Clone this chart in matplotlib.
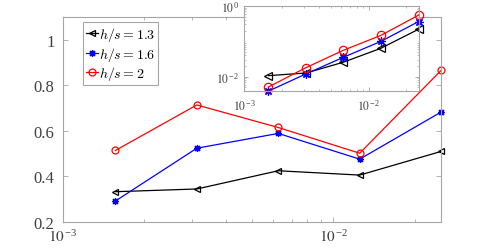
import matplotlib
matplotlib.use('Agg')
import matplotlib.pyplot as plt
from matplotlib.ticker import LogLocator, FixedLocator, NullFormatter

plt.rcParams['font.family'] = 'Liberation Serif'
plt.rcParams['mathtext.fontset'] = 'stix'

# data
dx = [0.0015625, 0.003125, 0.00625, 0.0125, 0.025]
labels = ['$h/s = 1.3$', '$h/s = 1.6$', '$h/s = 2$']

main_13 = [0.333, 0.345, 0.425, 0.406, 0.510]
main_16 = [0.292, 0.524, 0.589, 0.476, 0.683]
main_20 = [0.514, 0.714, 0.615, 0.502, 0.866]

inset_13 = [0.0107, 0.0127, 0.0257, 0.0638, 0.22]
inset_16 = [0.0039, 0.0120, 0.0355, 0.100, 0.363]
inset_20 = [0.0051, 0.0180, 0.056, 0.148, 0.55]

colors = ['black', 'blue', 'red']
markers = ['<', (8, 2, 0), 'o']
gray = '#a6a6a6'
txt = '#404040'

fig = plt.figure(figsize=(4.88, 2.51), dpi=100)
ax = fig.add_axes([0.129, 0.1116, 0.775, 0.8164])

for ys, c, m, lab in zip([main_13, main_16, main_20], colors, markers, labels):
    ax.plot(dx, ys, color=c, marker=m, mfc='none', mec=c, ms=5, lw=0.9,
            mew=0.9, label=lab, clip_on=False)

ax.set_xscale('log')
ax.set_xlim(1e-3, 0.025)
ax.set_ylim(0.2, 1.1)
ax.set_yticks([0.2, 0.4, 0.6, 0.8, 1.0])
ax.set_yticklabels(['0.2', '0.4', '0.6', '0.8', '1'])
ax.xaxis.set_major_locator(FixedLocator([1e-3, 1e-2]))
ax.set_xticklabels(['$10^{\\,\\mathregular{-3}}$', '$10^{\\,\\mathregular{-2}}$'])
ax.xaxis.set_minor_locator(LogLocator(base=10, subs=range(2, 10)))
ax.xaxis.set_minor_formatter(NullFormatter())
ax.tick_params(which='both', direction='in', top=True, right=True,
               color=gray, labelcolor=txt, labelsize=12)
ax.tick_params(which='major', length=3.5, width=0.6)
ax.tick_params(which='minor', length=2, width=0.6)
ax.tick_params(axis='x', pad=4, labelsize=11)
ax.tick_params(axis='y', pad=6)
for s in ax.spines.values():
    s.set_color(gray)
    s.set_linewidth(0.8)

leg = ax.legend(loc='upper left', bbox_to_anchor=(0.053, 0.975), fontsize=10,
                handlelength=0.9, handletextpad=0.05, borderpad=0.2,
                labelspacing=0.12, borderaxespad=0, fancybox=False,
                framealpha=1, edgecolor=gray)
leg.get_frame().set_linewidth(0.8)
for t in leg.get_texts():
    t.set_math_fontfamily('cm')

# inset
ax2 = fig.add_axes([0.5006, 0.633, 0.357, 0.339])
for ys, c, m in zip([inset_13, inset_16, inset_20], colors, markers):
    ax2.plot(dx, ys, color=c, marker=m, mfc='none', mec=c, ms=6, lw=0.9,
             mew=0.9, clip_on=False)
ax2.set_xscale('log')
ax2.set_yscale('log')
ax2.set_xlim(1e-3, 0.025)
ax2.set_ylim(0.0039, 1)
ax2.xaxis.set_major_locator(FixedLocator([1e-3, 1e-2]))
ax2.set_xticklabels(['$10^{\\,\\mathregular{-3}}$', '$10^{\\,\\mathregular{-2}}$'])
ax2.xaxis.set_minor_locator(LogLocator(base=10, subs=range(2, 10)))
ax2.xaxis.set_minor_formatter(NullFormatter())
ax2.yaxis.set_major_locator(FixedLocator([1e-2, 1e0]))
ax2.set_yticklabels(['$10^{\\,\\mathregular{-2}}$', '$10^{\\,\\mathregular{0}}$'])
ax2.yaxis.set_minor_locator(LogLocator(base=10, subs=range(2, 10), numticks=20))
ax2.yaxis.set_minor_formatter(NullFormatter())
ax2.tick_params(which='both', direction='in', top=True, right=True,
                color=gray, labelcolor=txt, labelsize=8.5)
ax2.tick_params(which='major', length=3, width=0.6)
ax2.tick_params(which='minor', length=1.6, width=0.5)
ax2.tick_params(axis='x', pad=5)
for s in ax2.spines.values():
    s.set_color(gray)
    s.set_linewidth(0.8)

fig.savefig('out.png', dpi=100)
